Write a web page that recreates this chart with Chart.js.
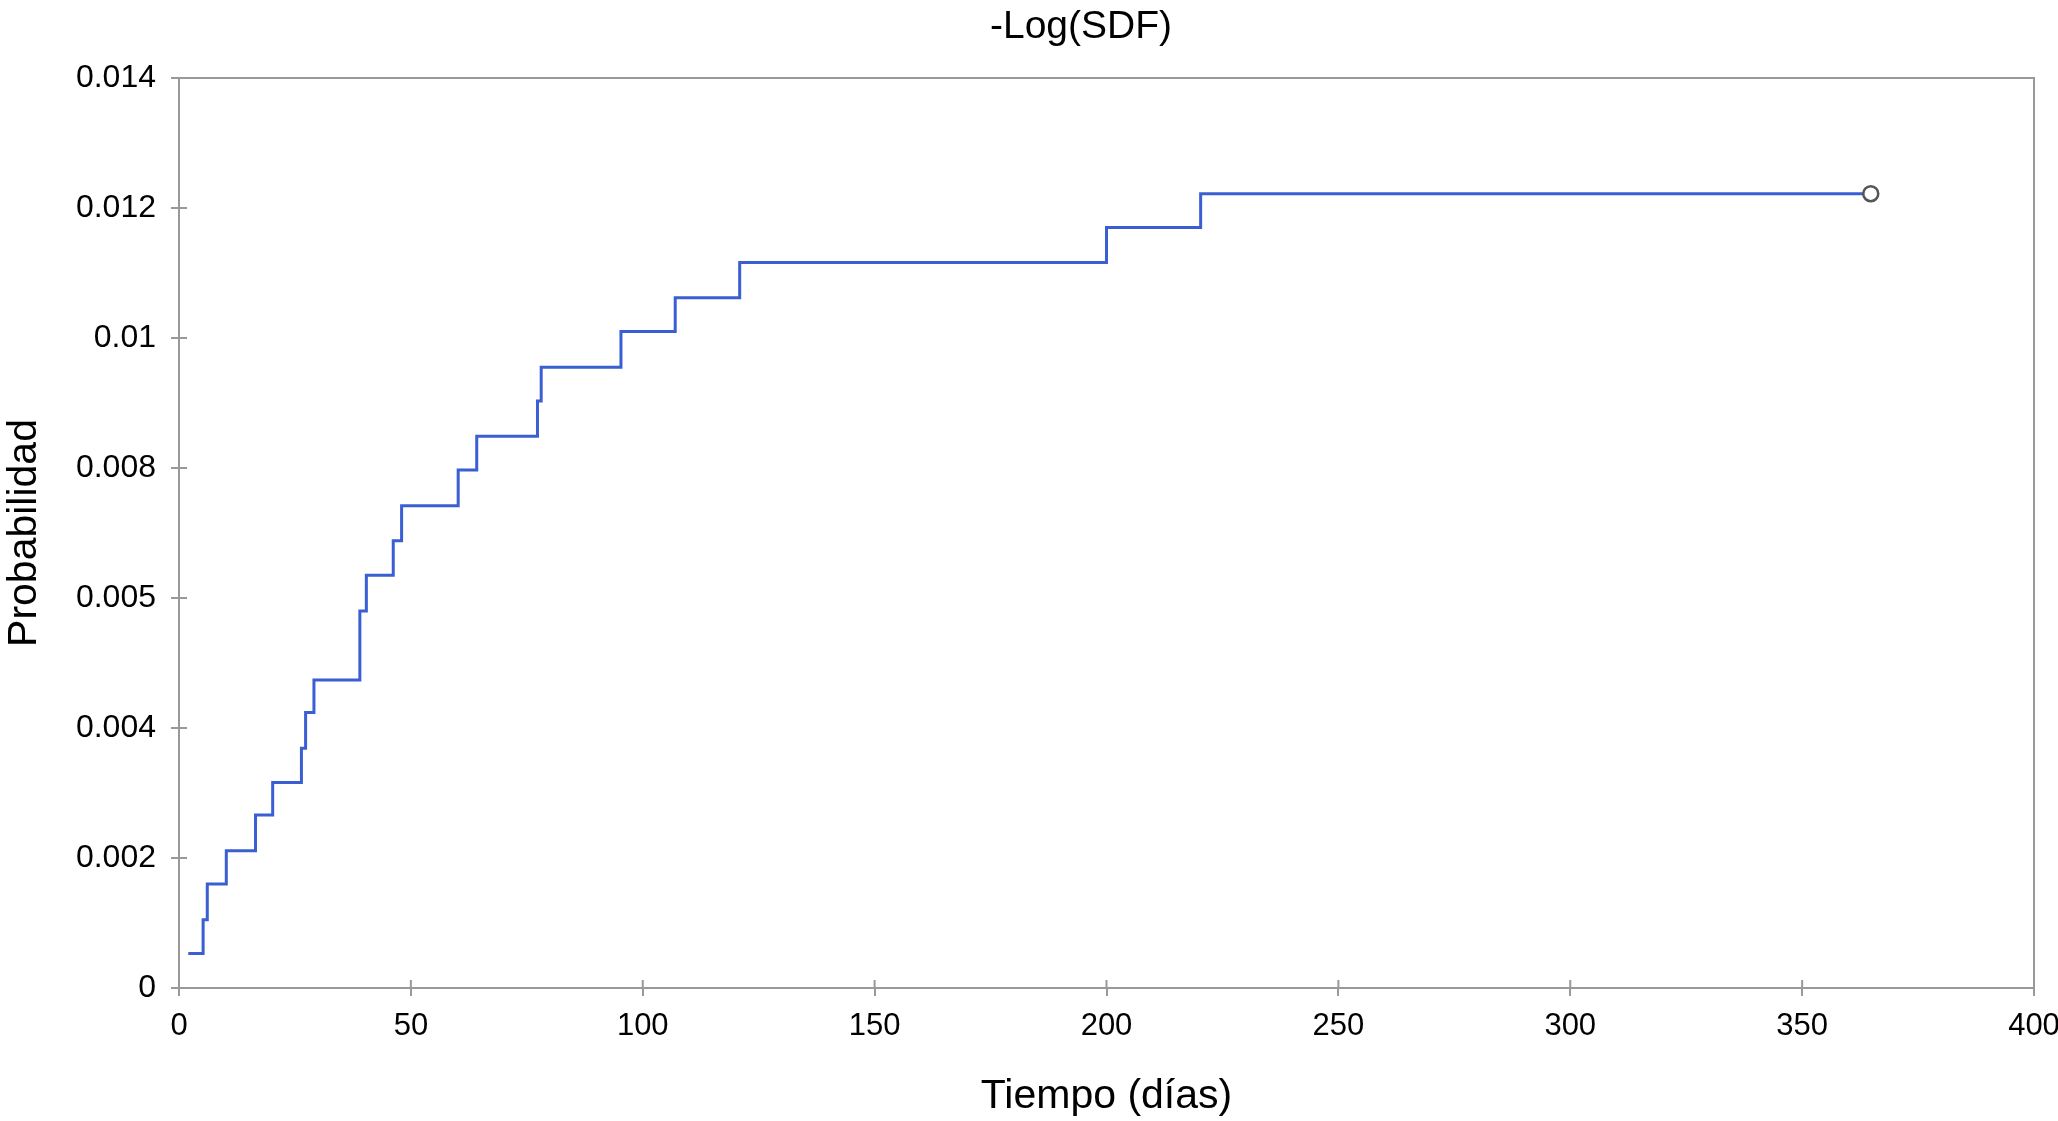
<!DOCTYPE html>
<html>
<head>
<meta charset="utf-8">
<title>-Log(SDF)</title>
<script src="https://cdn.jsdelivr.net/npm/chart.js@4"></script>
<style>
  html, body { margin: 0; padding: 0; background: #fff; }
  #wrap { width: 2058px; height: 1121px; position: relative; }
</style>
</head>
<body>
<div id="wrap"><canvas id="chart"></canvas></div>
<script>
// Datos (tiempo en días, valor de -Log(SDF))
const tiempo = [2, 5.2, 6.1, 10.2, 16.5, 20.2, 26.4, 27.3, 29.1, 39.0, 40.4, 46.2, 48.0,
  60.2, 64.2, 77.3, 78.1, 95.3, 107.0, 120.9, 200.0, 220.3, 364.8];
const probabilidad = [0.00053, 0.00105, 0.0016, 0.00211, 0.00266, 0.00316, 0.00369, 0.00424,
  0.00474, 0.0058, 0.00635, 0.00688, 0.00742, 0.00797, 0.00849, 0.00903, 0.00955, 0.0101,
  0.01062, 0.01116, 0.0117, 0.01222, 0.01222];

// Etiquetas del eje Y tal como aparecen en el original
const yTickLabels = ["0", "0.002", "0.004", "0.005", "0.008", "0.01", "0.012", "0.014"];

const AXIS = "#999999";
const FONT = "'Liberation Sans', Arial, Helvetica, sans-serif";

const puntos = tiempo.map((t, i) => ({ x: t, y: probabilidad[i] }));
const ultimo = puntos.length - 1;

// Marco superior/derecho, marcas hacia dentro y título
const extras = {
  id: "extras",
  beforeDatasetsDraw(chart) {
    const { ctx, chartArea: a, scales } = chart;
    ctx.save();
    ctx.strokeStyle = AXIS;
    ctx.lineWidth = 2;
    ctx.beginPath();
    ctx.moveTo(a.left, a.top);
    ctx.lineTo(a.right, a.top);
    ctx.lineTo(a.right, a.bottom);
    scales.x.ticks.forEach(t => {
      const px = scales.x.getPixelForValue(t.value);
      ctx.moveTo(px, a.bottom);
      ctx.lineTo(px, a.bottom - 8);
    });
    scales.y.ticks.forEach(t => {
      const py = scales.y.getPixelForValue(t.value);
      ctx.moveTo(a.left, py);
      ctx.lineTo(a.left + 8, py);
    });
    ctx.stroke();
    ctx.restore();
  },
  afterDraw(chart) {
    const { ctx } = chart;
    ctx.save();
    ctx.fillStyle = "#000";
    ctx.font = "39px " + FONT;
    ctx.textAlign = "center";
    ctx.textBaseline = "middle";
    ctx.fillText("-Log(SDF)", 1081, 27);
    ctx.restore();
  }
};

new Chart(document.getElementById("chart").getContext("2d"), {
  type: "line",
  data: {
    datasets: [{
      label: "-Log(SDF)",
      data: puntos,
      stepped: "before",
      borderColor: "#3a5fd2",
      borderWidth: 3,
      fill: false,
      tension: 0,
      pointRadius: c => (c.dataIndex === ultimo ? 7.5 : 0),
      pointHoverRadius: c => (c.dataIndex === ultimo ? 7.5 : 0),
      pointBorderColor: "#555555",
      pointBackgroundColor: "#ffffff",
      pointBorderWidth: 2.5
    }]
  },
  plugins: [extras],
  options: {
    responsive: true,
    maintainAspectRatio: false,
    animation: false,
    layout: { padding: { top: 78, right: 24, left: 0, bottom: 0 } },
    plugins: {
      legend: { display: false },
      title: { display: false },
      tooltip: { enabled: false }
    },
    scales: {
      x: {
        type: "linear",
        min: 0,
        max: 400,
        afterFit: s => { s.height = 133; s.paddingLeft = 0; s.paddingRight = 0; },
        border: { color: AXIS, width: 2 },
        grid: { drawOnChartArea: false, color: AXIS, lineWidth: 2, tickLength: 8 },
        ticks: { stepSize: 50, padding: 12, color: "#000", font: { family: FONT, size: 31 } },
        title: {
          display: true,
          text: "Tiempo (días)",
          color: "#000",
          padding: { top: 0, bottom: 0 },
          font: { family: FONT, size: 41 }
        }
      },
      y: {
        min: 0,
        max: 0.014,
        afterFit: s => { s.width = 179; s.paddingTop = 0; s.paddingBottom = 0; },
        border: { color: AXIS, width: 2 },
        grid: { drawOnChartArea: false, color: AXIS, lineWidth: 2, tickLength: 8 },
        ticks: {
          stepSize: 0.002,
          padding: 15,
          color: "#000",
          font: { family: FONT, size: 32 },
          callback: (v, i) => yTickLabels[i]
        },
        title: {
          display: true,
          text: "Probabilidad",
          color: "#000",
          padding: { top: 0, bottom: 0 },
          font: { family: FONT, size: 41 }
        }
      }
    }
  }
});
</script>
</body>
</html>
